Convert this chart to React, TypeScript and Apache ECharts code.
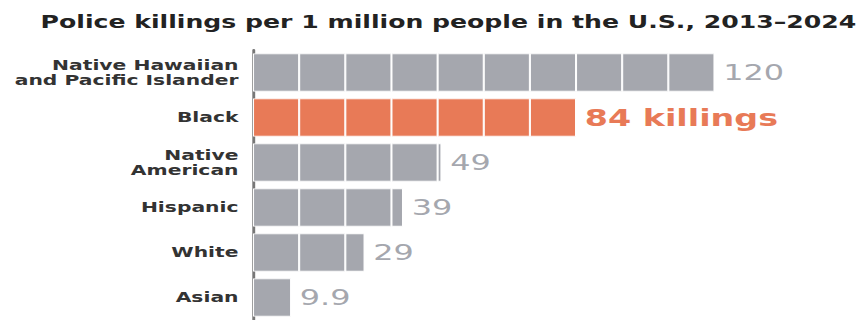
import React, { useEffect, useRef } from "react";
import * as echarts from "echarts";

const TITLE = "Police killings per 1 million people in the U.S., 2013–2024";
const CATEGORIES = [
  "Native Hawaiian\nand Pacific Islander",
  "Black",
  "Native\nAmerican",
  "Hispanic",
  "White",
  "Asian",
];
const VALUES = [120, 84, 49, 39, 29, 9.9];
const HIGHLIGHT_INDEX = 1;
const HIGHLIGHT_SUFFIX = " killings";
const BLOCK = 12;
const X_MAX = 150;

const S = 1.45; // horizontal stretch of the reference
const W = 866 / S;

const GRAY = "#a5a7ae";
const ORANGE = "#e87a57";

export default function App() {
  const ref = useRef<HTMLDivElement>(null);
  useEffect(() => {
    if (!ref.current) return;
    const chart = echarts.init(ref.current, undefined, { renderer: "svg" });
    const colorFor = (i: number) => (i === HIGHLIGHT_INDEX ? ORANGE : GRAY);
    const nBlocks = Math.ceil(Math.max(...VALUES) / BLOCK);
    const blockSeries: any[] = [];
    for (let k = 0; k < nBlocks; k++) {
      blockSeries.push({
        type: "bar",
        stack: "total",
        barWidth: 38,
        silent: true,
        data: VALUES.map((v, i) => {
          const s = Math.min(BLOCK, v - BLOCK * k);
          return s > 0 ? { value: s, itemStyle: { color: colorFor(i) } } : "-";
        }),
        itemStyle: { borderColor: "#ffffff", borderWidth: 0.7 },
      });
    }
    chart.setOption({
      animation: false,
      title: {
        text: TITLE,
        left: 23,
        top: 8.5,
        textStyle: {
          fontFamily: "DejaVu Sans",
          fontWeight: "bold",
          fontSize: 17.35,
          color: "#222222",
        },
      },
      grid: { left: 174.5, width: 397.8, top: 50, height: 270 },
      xAxis: { type: "value", min: 0, max: X_MAX, show: false },
      yAxis: {
        type: "category",
        data: CATEGORIES,
        inverse: true,
        axisTick: { show: false },
        axisLine: { show: true, lineStyle: { color: "#777777", width: 2 } },
        axisLabel: {
          margin: 10,
          fontFamily: "DejaVu Sans",
          fontWeight: "bold",
          fontSize: 14,
          lineHeight: 14.5,
          color: "#333333",
          align: "right",
        },
      },
      series: [
        ...blockSeries,
        {
          type: "bar",
          barWidth: 38,
          barGap: "-100%",
          silent: true,
          data: VALUES,
          itemStyle: { color: "rgba(0,0,0,0)" },
          label: {
            show: true,
            position: "right",
            distance: 6,
            formatter: (p: any) =>
              p.dataIndex === HIGHLIGHT_INDEX
                ? `{hl|${p.value}${HIGHLIGHT_SUFFIX}}`
                : `{v|${p.value}}`,
            rich: {
              v: {
                fontFamily: "DejaVu Sans",
                fontSize: 22,
                color: GRAY,
              },
              hl: {
                fontFamily: "DejaVu Sans",
                fontWeight: "bold",
                fontSize: 23,
                color: ORANGE,
              },
            },
          },
        },
      ],
    });
    return () => chart.dispose();
  }, []);
  return (
    <div
      style={{
        position: "fixed",
        left: 0,
        top: 0,
        width: 866,
        height: 320,
        overflow: "hidden",
        background: "#ffffff",
      }}
    >
      <div
        ref={ref}
        style={{
          width: W,
          height: 320,
          transform: `scaleX(${S})`,
          transformOrigin: "0 0",
        }}
      />
    </div>
  );
}
